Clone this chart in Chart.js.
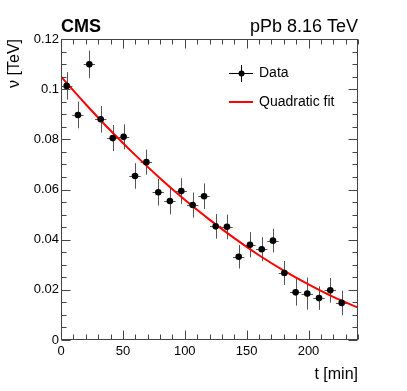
<!DOCTYPE html>
<html>
<head>
<meta charset="utf-8">
<script src="https://cdn.jsdelivr.net/npm/chart.js@4.4.0/dist/chart.umd.min.js"></script>
<style>
  html, body { margin: 0; padding: 0; background: #fff; }
  #wrap { width: 407px; height: 391px; }
</style>
</head>
<body>
<div id="wrap"><canvas id="cms"></canvas></div>
<script>
// measured points (t in min, nu in TeV)
var timeMin = [4.6, 13.7, 22.9, 32.1, 41.8, 50.6, 59.8, 69.0, 78.6, 88.0, 97.2, 106.4, 115.6,
               125.0, 134.1, 143.6, 152.7, 162.2, 171.3, 180.5, 189.6, 199.0, 208.5, 217.6, 226.8];
var nuTeV = [0.1013, 0.0897, 0.1099, 0.0880, 0.0805, 0.0810, 0.0654, 0.0709, 0.0589, 0.0554, 0.0594, 0.0538, 0.0573,
             0.0453, 0.0451, 0.0332, 0.0380, 0.0362, 0.0396, 0.0267, 0.0190, 0.0185, 0.0167, 0.0198, 0.0148];
var nuErr = [0.0055, 0.0053, 0.0055, 0.0053, 0.0052, 0.0050, 0.0051, 0.0050, 0.0053, 0.0053, 0.0051, 0.0050, 0.0051,
             0.0049, 0.0049, 0.0047, 0.0050, 0.0048, 0.0047, 0.0048, 0.0053, 0.0064, 0.0047, 0.0049, 0.0049];
var tHalf = 4.6;

// quadratic fit curve
var fitT = [0, 20, 40, 60, 80, 100, 120, 140, 160, 180, 200, 220, 240];
var fitNu = [0.1050, 0.0940, 0.0835, 0.0737, 0.0645, 0.0559, 0.0480, 0.0406, 0.0338, 0.0277, 0.0222, 0.0172, 0.0129];

var xTicks = [0, 50, 100, 150, 200];
var yTicks = [0, 0.02, 0.04, 0.06, 0.08, 0.1, 0.12];

var FONT = "'Liberation Sans', Arial, Helvetica, sans-serif";

var pts = timeMin.map((t, i) => ({x: t, y: nuTeV[i]}));
var fit = fitT.map((t, i) => ({x: t, y: fitNu[i]}));

// error bars, ROOT style frame, titles and legend
var rootStyle = {
  id: "rootStyle",
  beforeDatasetsDraw(chart) {
    var ctx = chart.ctx, xs = chart.scales.x, ys = chart.scales.y;
    ctx.save();
    ctx.strokeStyle = "#555";
    ctx.lineWidth = 1;
    ctx.beginPath();
    timeMin.forEach((t, i) => {
      var px = Math.round(xs.getPixelForValue(t)) + 0.5;
      var py = Math.round(ys.getPixelForValue(nuTeV[i])) + 0.5;
      ctx.moveTo(px, ys.getPixelForValue(nuTeV[i] - nuErr[i]));
      ctx.lineTo(px, ys.getPixelForValue(nuTeV[i] + nuErr[i]));
      ctx.moveTo(xs.getPixelForValue(t - tHalf), py);
      ctx.lineTo(xs.getPixelForValue(t + tHalf), py);
    });
    ctx.stroke();
    ctx.restore();
  },
  afterDraw(chart) {
    var ctx = chart.ctx, a = chart.chartArea, xs = chart.scales.x, ys = chart.scales.y;
    var L = a.left + 0.5, R = a.right - 0.5, T = a.top + 0.5, B = a.bottom - 0.5;
    ctx.save();
    ctx.strokeStyle = "#444";
    ctx.lineWidth = 1;
    ctx.strokeRect(L, T, R - L, B - T);

    ctx.beginPath();
    // x ticks, bottom and top
    for (var v = 0; v <= 240; v += 10) {
      var px = Math.round(xs.getPixelForValue(v)) + 0.5;
      var len = (v % 50 === 0) ? 9 : 5;
      ctx.moveTo(px, B); ctx.lineTo(px, B - len);
      ctx.moveTo(px, T); ctx.lineTo(px, T + len);
    }
    // y ticks, left and right
    for (var k = 0; k <= 24; k++) {
      var py = Math.round(ys.getPixelForValue(k * 0.005)) + 0.5;
      var len2 = (k % 4 === 0) ? 9 : 5;
      ctx.moveTo(L, py); ctx.lineTo(L + len2, py);
      ctx.moveTo(R, py); ctx.lineTo(R - len2, py);
    }
    ctx.stroke();

    // texts
    ctx.fillStyle = "#000";
    ctx.textBaseline = "alphabetic";
    ctx.font = "bold 18px " + FONT;
    ctx.textAlign = "left";
    ctx.fillText("CMS", a.left, 32);
    ctx.font = "18px " + FONT;
    ctx.textAlign = "right";
    ctx.fillText("pPb 8.16 TeV", a.right, 32);

    ctx.font = "16px " + FONT;
    ctx.fillText("t [min]", a.right, 379);
    ctx.save();
    ctx.translate(19, a.top);
    ctx.rotate(-Math.PI / 2);
    ctx.textAlign = "right";
    ctx.fillText("\u03bd [TeV]", 0, 0);
    ctx.restore();

    // legend
    var lx0 = 229, lx1 = 253, tx = 259, y1 = 73.5, y2 = 102;
    ctx.strokeStyle = "#000";
    ctx.lineWidth = 1;
    ctx.beginPath();
    ctx.moveTo(lx0, y1); ctx.lineTo(lx1, y1);
    ctx.moveTo(241.5, y1 - 8.5); ctx.lineTo(241.5, y1 + 8.5);
    ctx.stroke();
    ctx.beginPath();
    ctx.arc(241.5, y1, 3, 0, Math.PI * 2);
    ctx.fill();
    ctx.strokeStyle = "#ff0000";
    ctx.lineWidth = 2;
    ctx.beginPath();
    ctx.moveTo(lx0, y2); ctx.lineTo(lx1, y2);
    ctx.stroke();
    ctx.font = "14px " + FONT;
    ctx.textAlign = "left";
    ctx.textBaseline = "middle";
    ctx.fillText(chart.data.datasets[0].label, tx, y1);
    ctx.fillText(chart.data.datasets[1].label, tx, y2);
    ctx.restore();
  }
};

new Chart(document.getElementById("cms"), {
  type: "scatter",
  data: {
    datasets: [
      {
        label: "Data",
        data: pts,
        showLine: false,
        pointRadius: 3.3,
        pointBackgroundColor: "#000",
        pointBorderWidth: 0,
        order: 1
      },
      {
        label: "Quadratic fit",
        type: "line",
        data: fit,
        borderColor: "#ff0000",
        borderWidth: 2,
        pointRadius: 0,
        cubicInterpolationMode: "monotone",
        fill: false,
        order: 2
      }
    ]
  },
  options: {
    responsive: true,
    maintainAspectRatio: false,
    animation: false,
    events: [],
    layout: { padding: { left: 0, right: 49, top: 39, bottom: 0 } },
    plugins: { legend: { display: false }, tooltip: { enabled: false } },
    scales: {
      x: {
        type: "linear",
        min: 0, max: 240,
        afterBuildTicks: s => { s.ticks = xTicks.map(v => ({value: v})); },
        afterFit: s => { s.height = 51; },
        grid: { display: false, drawTicks: false },
        border: { display: false },
        ticks: { color: "#000", font: { family: FONT, size: 13 }, padding: 4, maxRotation: 0, autoSkip: false }
      },
      y: {
        type: "linear",
        min: 0, max: 0.12,
        afterBuildTicks: s => { s.ticks = yTicks.map(v => ({value: v})); },
        afterFit: s => { s.width = 61; },
        grid: { display: false, drawTicks: false },
        border: { display: false },
        ticks: {
          color: "#000", font: { family: FONT, size: 13 }, padding: 2, autoSkip: false,
          callback: v => String(+v.toFixed(2))
        }
      }
    }
  },
  plugins: [rootStyle]
});
</script>
</body>
</html>
